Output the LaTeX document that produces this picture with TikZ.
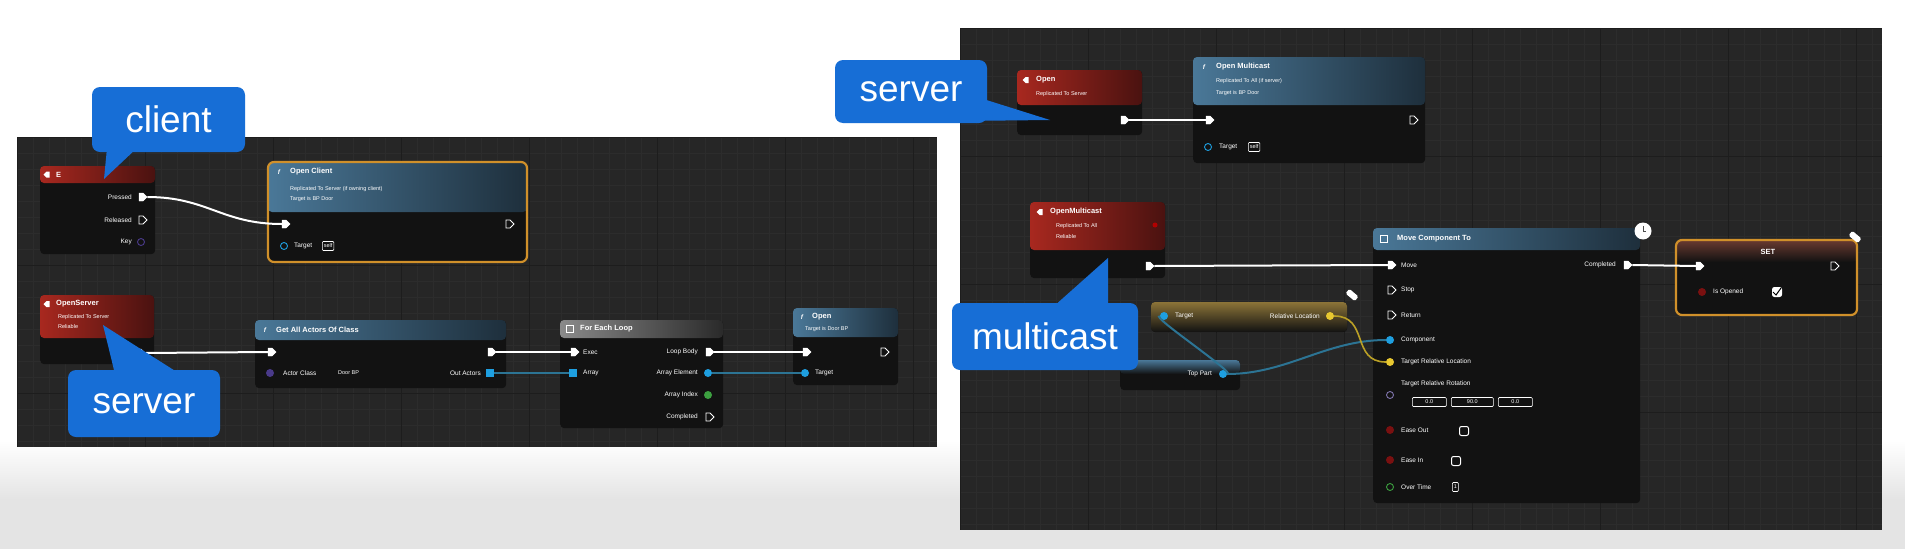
\documentclass[tikz,border=0pt]{standalone}
\usepackage{fontspec}
\setmainfont{Liberation Sans}
\usetikzlibrary{shapes.symbols}
\definecolor{panelbg}{HTML}{262626}
\definecolor{gridminor}{HTML}{2C2C2C}
\definecolor{gridmajor}{HTML}{1D1D1D}
\definecolor{nodebody}{HTML}{121212}
\definecolor{redhi}{HTML}{A8281F}
\definecolor{redlo}{HTML}{4A1210}
\definecolor{bluehi}{HTML}{4A7898}
\definecolor{bluelo}{HTML}{1E2F3C}
\definecolor{grayhi}{HTML}{8A8A8A}
\definecolor{graylo}{HTML}{2A2A2A}
\definecolor{goldhi}{HTML}{8C7438}
\definecolor{setbrown}{HTML}{6A3A30}
\definecolor{callblue}{HTML}{176ED6}
\definecolor{selorange}{HTML}{D0902A}
\definecolor{pinblue}{HTML}{1E9FE0}
\definecolor{wireblue}{HTML}{2C7494}
\definecolor{pinyellow}{HTML}{E8C830}
\definecolor{pingreen}{HTML}{3CA040}
\definecolor{pinred}{HTML}{7A1010}
\definecolor{pinpurple}{HTML}{4A3A8A}
\definecolor{pagegray}{HTML}{E4E4E4}
\newcommand\pinfont{\fontsize{6.5}{7.5}\selectfont}
\newcommand\titlefont{\fontsize{7.5}{8.5}\selectfont\bfseries}
\newcommand\descfont{\fontsize{5.5}{6.5}\selectfont}
\newcommand\callfont{\fontsize{37}{40}\selectfont}
\tikzset{
  bpbody/.style={fill=nodebody, rounded corners=4pt, anchor=north west, inner sep=0pt},
  redhead/.style={left color=redhi, right color=redlo, rounded corners=4pt},
  bluehead/.style={left color=bluehi, right color=bluelo, rounded corners=4pt},
  grayhead/.style={left color=grayhi, right color=graylo, rounded corners=4pt},
  goldhead/.style={top color=goldhi, bottom color=nodebody, rounded corners=4pt},
  stripblue/.style={top color=bluehi, bottom color=nodebody, rounded corners=4pt},
  selborder/.style={draw=selorange, line width=2.2pt, rounded corners=6pt},
  execpin/.style={signal, signal to=east, fill=white, draw=white, minimum width=8pt, minimum height=8pt, inner sep=0pt},
  exechollow/.style={signal, signal to=east, draw=white!70, line width=0.8pt, minimum width=8pt, minimum height=8pt, inner sep=0pt},
  datapin/.style={circle, fill=#1, minimum size=8pt, inner sep=0pt},
  arraypin/.style={rectangle, fill=#1, minimum size=8pt, inner sep=0pt},
  hollowpin/.style={circle, draw=#1, line width=0.9pt, minimum size=7pt, inner sep=0pt},
  pinlabel/.style={font=\pinfont, text=white!70, inner sep=1pt},
  titletext/.style={font=\titlefont, text=white!88, inner sep=0pt, anchor=west},
  desctext/.style={font=\descfont, text=white!55, inner sep=0pt, anchor=west},
  evicon/.style={signal, signal to=west, fill=white, minimum width=6pt, minimum height=6pt, inner sep=0pt},
  fnicon/.style={font=\pinfont\itshape\bfseries, text=white, inner sep=0pt},
  sqicon/.style={draw=white, line width=0.8pt, minimum size=7pt, inner sep=0pt},
  wire/.style={draw=white!72, line width=2pt},
  bluewire/.style={draw=wireblue, line width=2pt},
  yellowwire/.style={draw=pinyellow!80!black, line width=1.6pt},
  callout/.style={fill=callblue, rounded corners=8pt, font=\callfont, text=white, inner sep=0pt},
  valbox/.style={draw=white!55, line width=0.6pt, font=\descfont, text=white!75, inner sep=1.5pt, minimum height=9pt, rounded corners=1pt},
  checkbox/.style={draw=white!85, line width=1pt, minimum size=9pt, inner sep=0pt, rounded corners=2pt},
  noteicon/.style={rectangle, fill=white!90, rounded corners=1.5pt, minimum width=12pt, minimum height=6pt, rotate=-40, inner sep=0pt},
}
\begin{document}
\begin{tikzpicture}[x=1pt,y=-1pt]
\useasboundingbox (0,0) rectangle (1905,549);
% page background
\fill[white] (0,0) rectangle (1905,549);
\shade[top color=white, bottom color=pagegray] (0,440) rectangle (1905,500);
\fill[pagegray] (0,500) rectangle (1905,549);

% ---------------- left panel ----------------
\begin{scope}
\clip (17,137) rectangle (937,447);
\fill[panelbg] (17,137) rectangle (937,447);
\foreach \x in {17,33,...,937} \draw[gridminor, line width=0.5pt] (\x,137) -- (\x,447);
\foreach \y in {137,153,...,447} \draw[gridminor, line width=0.5pt] (17,\y) -- (937,\y);
\foreach \x in {17,145,...,937} \draw[gridmajor, line width=1pt] (\x,137) -- (\x,447);
\foreach \y in {137,265,...,447} \draw[gridmajor, line width=1pt] (17,\y) -- (937,\y);
\end{scope}

% ---------------- right panel ----------------
\begin{scope}
\clip (960,28) rectangle (1882,530);
\fill[panelbg] (960,28) rectangle (1882,530);
\foreach \x in {960,976,...,1882} \draw[gridminor, line width=0.5pt] (\x,28) -- (\x,530);
\foreach \y in {28,44,...,530} \draw[gridminor, line width=0.5pt] (960,\y) -- (1882,\y);
\foreach \x in {960,1088,...,1882} \draw[gridmajor, line width=1pt] (\x,28) -- (\x,530);
\foreach \y in {28,156,...,530} \draw[gridmajor, line width=1pt] (960,\y) -- (1882,\y);
\end{scope}

% ======== L1 key event ========
\node[bpbody, minimum width=115pt, minimum height=88pt] (evE) at (40,166) {};
\path[redhead] (40,166) rectangle (155,183);
\node[evicon] (evEicon) at (48,174.5) {};
\node[titletext] (evEtitle) at (56,174.5) {E};
\node[execpin] (evEpressed) at (141,197) {};
\node[pinlabel, anchor=east] (evEpressedl) at (133,197) {Pressed};
\node[exechollow] (evEreleased) at (141,220) {};
\node[pinlabel, anchor=east] (evEreleasedl) at (133,220) {Released};
\node[hollowpin=pinpurple] (evEkey) at (141,242) {};
\node[pinlabel, anchor=east] (evEkeyl) at (133,242) {Key};

% ======== L2 Open Client ========
\node[bpbody, minimum width=259pt, minimum height=100pt] (opCl) at (268,162) {};
\path[bluehead] (268,162) rectangle (527,212);
\draw[selborder] (268,162) rectangle (527,262);
\node[fnicon] (opClicon) at (279,172) {f};
\node[titletext] (opCltitle) at (290,172) {Open Client};
\node[desctext] (opCld1) at (290,189) {Replicated To Server (if owning client)};
\node[desctext] (opCld2) at (290,199) {Target is BP Door};
\node[execpin] (opClin) at (284,224) {};
\node[exechollow] (opClout) at (508,224) {};
\node[hollowpin=pinblue] (opCltg) at (284,246) {};
\node[pinlabel, anchor=west] (opCltgl) at (293,246) {Target};
\node[valbox, anchor=west] (opCltgv) at (322,246) {self};

% ======== L3 OpenServer event ========
\node[bpbody, minimum width=114pt, minimum height=69pt] (evSrv) at (40,295) {};
\path[redhead] (40,295) rectangle (154,338);
\node[evicon] (evSrvicon) at (48,304) {};
\node[titletext] (evSrvtitle) at (56,304) {OpenServer};
\node[desctext] (evSrvd1) at (58,317) {Replicated To Server};
\node[desctext] (evSrvd2) at (58,327) {Reliable};
\node[execpin] (evSrvout) at (139,353) {};

% ======== L4 Get All Actors Of Class ========
\node[bpbody, minimum width=251pt, minimum height=68pt] (getAll) at (255,320) {};
\path[bluehead] (255,320) rectangle (506,340);
\node[fnicon] (getAllicon) at (265,330) {f};
\node[titletext] (getAlltitle) at (276,330) {Get All Actors Of Class};
\node[execpin] (getAllin) at (270,352) {};
\node[execpin] (getAllout) at (490,352) {};
\node[datapin=pinpurple] (getAllcls) at (270,373) {};
\node[pinlabel, anchor=west] (getAllclsl) at (282,373) {Actor Class};
\node[desctext] (getAllclsv) at (338,373) {Door BP};
\node[pinlabel, anchor=east] (getAllarrl) at (482,373) {Out Actors};
\node[arraypin=pinblue] (getAllarr) at (490,373) {};

% ======== L5 For Each Loop ========
\node[bpbody, minimum width=163pt, minimum height=108pt] (forEach) at (560,320) {};
\path[grayhead] (560,320) rectangle (723,338);
\node[sqicon] (forEachicon) at (570,329) {};
\node[titletext] (forEachtitle) at (580,329) {For Each Loop};
\node[execpin] (forEachin) at (573,352) {};
\node[pinlabel, anchor=west] (forEachinl) at (582,352) {Exec};
\node[arraypin=pinblue] (forEacharr) at (573,373) {};
\node[pinlabel, anchor=west] (forEacharrl) at (582,373) {Array};
\node[execpin] (forEachbody) at (708,352) {};
\node[pinlabel, anchor=east] (forEachbodyl) at (699,352) {Loop Body};
\node[datapin=pinblue] (forEachelem) at (708,373) {};
\node[pinlabel, anchor=east] (forEacheleml) at (699,373) {Array Element};
\node[datapin=pingreen] (forEachidx) at (708,395) {};
\node[pinlabel, anchor=east] (forEachidxl) at (699,395) {Array Index};
\node[exechollow] (forEachdone) at (708,417) {};
\node[pinlabel, anchor=east] (forEachdonel) at (699,417) {Completed};

% ======== L6 Open ========
\node[bpbody, minimum width=105pt, minimum height=77pt] (opL) at (793,308) {};
\path[bluehead] (793,308) rectangle (898,337);
\node[fnicon] (opLicon) at (802,317) {f};
\node[titletext] (opLtitle) at (812,317) {Open};
\node[desctext] (opLd) at (805,329) {Target is Door BP};
\node[execpin] (opLin) at (805,352) {};
\node[exechollow] (opLout) at (883,352) {};
\node[datapin=pinblue] (opLtg) at (805,373) {};
\node[pinlabel, anchor=west] (opLtgl) at (814,373) {Target};

% left wires
\draw[wire] (evEpressed.east) .. controls +(60,0) and +(-60,0) .. (opClin.west);
\draw[wire] (evSrvout.east) -- (getAllin.west);
\draw[wire] (getAllout.east) -- (forEachin.west);
\draw[bluewire] (getAllarr.east) -- (forEacharr.west);
\draw[wire] (forEachbody.east) -- (opLin.west);
\draw[bluewire] (forEachelem.east) -- (opLtg.west);

% ======== R1 Open event ========
\node[bpbody, minimum width=125pt, minimum height=65pt] (evOpen) at (1017,70) {};
\path[redhead] (1017,70) rectangle (1142,105);
\node[evicon] (evOpenicon) at (1027,80) {};
\node[titletext] (evOpentitle) at (1036,80) {Open};
\node[desctext] (evOpend) at (1036,94) {Replicated To Server};
\node[execpin] (evOpenout) at (1123,120) {};

% ======== R2 Open Multicast ========
\node[bpbody, minimum width=232pt, minimum height=106pt] (opMc) at (1193,57) {};
\path[bluehead] (1193,57) rectangle (1425,105);
\node[fnicon] (opMcicon) at (1204,67) {f};
\node[titletext] (opMctitle) at (1216,67) {Open Multicast};
\node[desctext] (opMcd1) at (1216,81) {Replicated To All (if server)};
\node[desctext] (opMcd2) at (1216,93) {Target is BP Door};
\node[execpin] (opMcin) at (1208,120) {};
\node[exechollow] (opMcout) at (1412,120) {};
\node[hollowpin=pinblue] (opMctg) at (1208,147) {};
\node[pinlabel, anchor=west] (opMctgl) at (1218,147) {Target};
\node[valbox, anchor=west] (opMctgv) at (1248,147) {self};
\draw[wire] (evOpenout.east) -- (opMcin.west);

% ======== R3 OpenMulticast event ========
\node[bpbody, minimum width=135pt, minimum height=76pt] (evMc) at (1030,202) {};
\path[redhead] (1030,202) rectangle (1165,250);
\node[evicon] (evMcicon) at (1041,212) {};
\node[titletext] (evMctitle) at (1050,212) {OpenMulticast};
\node[desctext] (evMcd1) at (1056,226) {Replicated To All};
\node[desctext] (evMcd2) at (1056,237) {Reliable};
\node[circle, fill=red!70!black, minimum size=5pt, inner sep=0pt] (evMcrep) at (1155,225) {};
\node[execpin] (evMcout) at (1148,266) {};

% ======== R4 Move Component To ========
\node[bpbody, minimum width=267pt, minimum height=275pt] (mvc) at (1373,228) {};
\path[bluehead] (1373,228) rectangle (1640,250);
\node[sqicon] (mvcicon) at (1384,239) {};
\node[titletext] (mvctitle) at (1397,239) {Move Component To};
\node[circle, fill=white, minimum size=17pt, inner sep=0pt] (mvcclock) at (1643,231) {};
\draw[black!70, line width=1pt] (mvcclock.center) -- +(0,-5) (mvcclock.center) -- +(3,0);
\node[execpin] (mvcmove) at (1390,265) {};
\node[pinlabel, anchor=west] (mvcmovel) at (1400,265) {Move};
\node[exechollow] (mvcstop) at (1390,290) {};
\node[pinlabel, anchor=west] (mvcstopl) at (1400,290) {Stop};
\node[exechollow] (mvcret) at (1390,315) {};
\node[pinlabel, anchor=west] (mvcretl) at (1400,315) {Return};
\node[datapin=pinblue] (mvccomp) at (1390,340) {};
\node[pinlabel, anchor=west] (mvccompl) at (1400,340) {Component};
\node[datapin=pinyellow] (mvcloc) at (1390,362) {};
\node[pinlabel, anchor=west] (mvclocl) at (1400,362) {Target Relative Location};
\node[hollowpin=pinpurple!70!white] (mvcrot) at (1390,395) {};
\node[pinlabel, anchor=west] (mvcrotl) at (1400,384) {Target Relative Rotation};
\node[valbox, anchor=west, minimum width=34pt] (mvcrx) at (1412,402) {0.0};
\node[valbox, anchor=west, minimum width=42pt] (mvcry) at (1451,402) {90.0};
\node[valbox, anchor=west, minimum width=34pt] (mvcrz) at (1498,402) {0.0};
\node[datapin=pinred] (mvceo) at (1390,430) {};
\node[pinlabel, anchor=west] (mvceol) at (1400,430) {Ease Out};
\node[checkbox] (mvceob) at (1464,431) {};
\node[datapin=pinred] (mvcei) at (1390,460) {};
\node[pinlabel, anchor=west] (mvceil) at (1400,460) {Ease In};
\node[checkbox] (mvceib) at (1456,461) {};
\node[hollowpin=pingreen] (mvcot) at (1390,487) {};
\node[pinlabel, anchor=west] (mvcotl) at (1400,487) {Over Time};
\node[valbox, anchor=west] (mvcotv) at (1452,487) {1};
\node[execpin] (mvcdone) at (1626,265) {};
\node[pinlabel, anchor=east] (mvcdonel) at (1617,265) {Completed};

% ======== R5 SET ========
\node[bpbody, minimum width=181pt, minimum height=75pt] (setOp) at (1676,240) {};
\path[top color=setbrown, bottom color=nodebody, rounded corners=4pt] (1676,240) rectangle (1857,262);
\draw[selborder] (1676,240) rectangle (1857,315);
\node[titletext, anchor=center] (setOptitle) at (1768,252) {SET};
\node[execpin] (setOpin) at (1698,266) {};
\node[exechollow] (setOpout) at (1833,266) {};
\node[datapin=pinred] (setOpv) at (1702,292) {};
\node[pinlabel, anchor=west] (setOpvl) at (1712,292) {Is Opened};
\node[checkbox, fill=white!85] (setOpcb) at (1777,292) {};
\draw[black, line width=1pt] (1773,292) -- (1776,295) -- (1781,288);
\node[noteicon] (setOpnote) at (1855,237) {};

% ======== R6 Relative Location getter ========
\node[bpbody, minimum width=196pt, minimum height=30pt] (relLoc) at (1151,302) {};
\path[goldhead] (1151,302) rectangle (1347,332);
\node[datapin=pinblue] (relLoctg) at (1164,316) {};
\node[pinlabel, anchor=west] (relLoctgl) at (1174,316) {Target};
\node[pinlabel, anchor=east] (relLocoutl) at (1321,316) {Relative Location};
\node[datapin=pinyellow] (relLocout) at (1330,316) {};
\node[noteicon] (relLocnote) at (1352,295) {};

% ======== R7 Top Part getter ========
\node[bpbody, minimum width=120pt, minimum height=30pt] (topPart) at (1120,360) {};
\path[stripblue] (1120,360) rectangle (1240,374);
\node[datapin=pinblue] (topPartout) at (1223,374) {};
\node[pinlabel, anchor=east] (topPartl) at (1213,374) {Top Part};

% right wires
\draw[wire] (evMcout.east) -- (mvcmove.west);
\draw[wire] (mvcdone.east) -- (setOpin.west);
\draw[bluewire] (topPartout.east) .. controls +(10,0) and +(-10,0) .. (relLoctg.west);
\draw[bluewire] (topPartout.east) .. controls +(60,0) and +(-60,0) .. (mvccomp.west);
\draw[yellowwire] (relLocout.east) .. controls +(35,0) and +(-35,0) .. (mvcloc.west);

% ======== callouts ========
\node[callout, minimum width=153pt, minimum height=65pt] (callClient) at (168.5,119.5) {client};
\fill[callblue] (107,148) -- (104,179) -- (137,148) -- cycle;
\node[callout, minimum width=152pt, minimum height=67pt] (callSrvL) at (144,403.5) {server};
\fill[callblue] (115,374) -- (103,325) -- (180,374) -- cycle;
\node[callout, minimum width=152pt, minimum height=63pt] (callSrvR) at (911,91.5) {server};
\fill[callblue] (980,98) -- (1050,120) -- (960,121) -- cycle;
\node[callout, minimum width=186pt, minimum height=67pt] (callMc) at (1045,336.5) {multicast};
\fill[callblue] (1053,307) -- (1108,258) -- (1108,307) -- cycle;
\end{tikzpicture}
\end{document}
